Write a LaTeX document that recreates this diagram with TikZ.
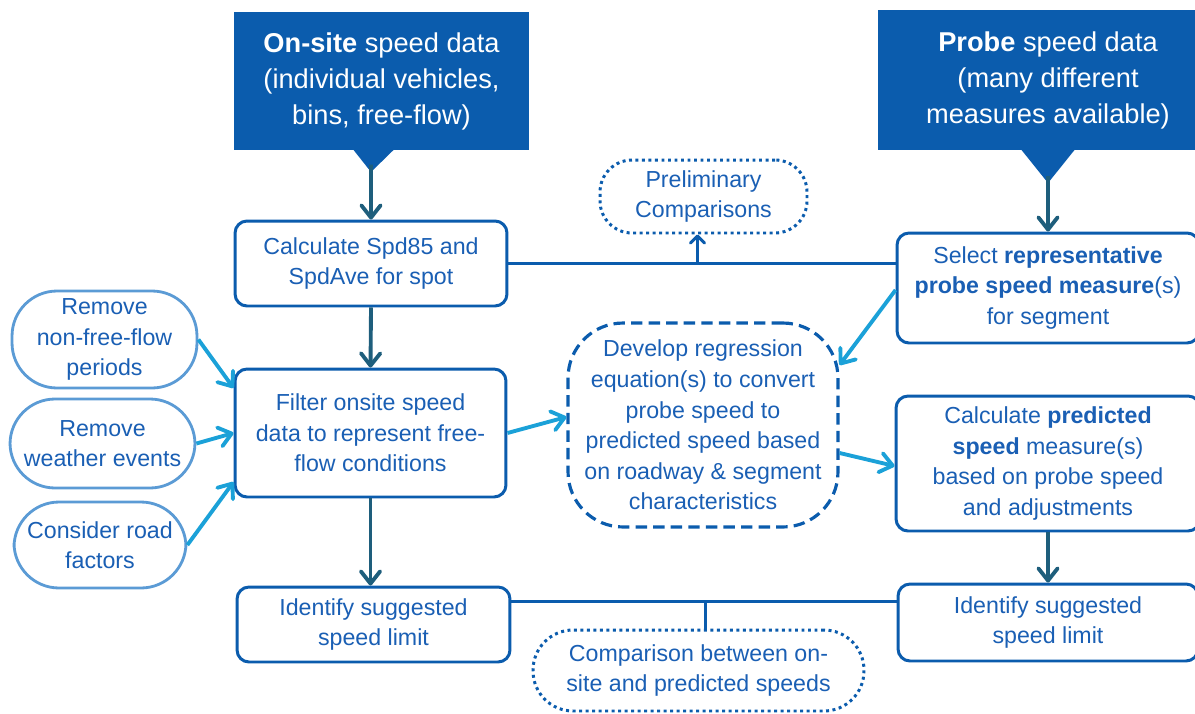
\documentclass[tikz,border=0pt]{standalone}
\usepackage{fontspec}
\setmainfont{Liberation Sans}
\usetikzlibrary{positioning,arrows.meta,shapes.callouts,calc}
\definecolor{flowblue}{HTML}{0B5CAD}
\definecolor{flowtext}{HTML}{1A5FB4}
\definecolor{flowdark}{HTML}{1E5E7C}
\definecolor{flowlight}{HTML}{1BA1D8}
\definecolor{flowoval}{HTML}{5B9BD5}

\begin{document}
\begin{tikzpicture}[x=0.02cm,y=-0.02cm,
  font=\fontsize{13.2}{17.4}\selectfont,
  source/.style={rectangle callout,fill=flowblue,text=white,align=center,inner sep=0pt,
                 font=\fontsize{15.5}{20.5}\selectfont},
  stepbox/.style={draw=flowblue,line width=1.7pt,rounded corners=0.24cm,fill=white,
                  text=flowtext,align=center,inner sep=0pt},
  filterbox/.style={draw=flowoval,line width=1.6pt,rounded corners=0.9cm,fill=white,
                    text=flowtext,align=center,inner sep=0pt},
  modelbox/.style={draw=flowblue,line width=1.8pt,dash pattern=on 6.5pt off 3.5pt,
                   rounded corners=1.1cm,text=flowtext,align=center,inner sep=0pt},
  checkbox/.style={draw=flowblue,line width=1.7pt,dash pattern=on 1.7pt off 2pt,
                   text=flowtext,align=center,inner sep=0pt},
  darr/.style={-{Straight Barb[length=7pt,width=11pt,round]},draw=flowdark,line width=2.2pt},
  larr/.style={-{Straight Barb[length=7pt,width=11pt,round]},draw=flowlight,line width=2.2pt},
  link/.style={draw=flowblue,line width=1.7pt},
]
\useasboundingbox (0,0) rectangle (1195,713);

% data sources (callouts pointing down)
\node[source,minimum width=5.9cm,minimum height=2.76cm,callout pointer width=0.8cm,
      callout absolute pointer={(371,172)}] (onsite) at (381.5,81)
  {\textbf{On-site} speed data\\(individual vehicles,\\bins, free-flow)};
\node[source,minimum width=6.8cm,minimum height=2.8cm,callout pointer width=1.06cm,
      callout absolute pointer={(1048,183)}] (probe) at (1048,80)
  {\textbf{Probe} speed data\\(many different\\measures available)};

% on-site column
\node[stepbox,minimum width=5.44cm,minimum height=1.7cm] (calc) at (371,263.5)
  {Calculate Spd85 and\\SpdAve for spot};
\node[stepbox,minimum width=5.42cm,minimum height=2.56cm] (filter) at (370.5,433)
  {Filter onsite speed\\data to represent free-\\flow conditions};
\node[stepbox,minimum width=5.46cm,minimum height=1.5cm] (idl) at (373.5,624.5)
  {Identify suggested\\speed limit};

% filters feeding the on-site data
\node[filterbox,minimum width=3.7cm,minimum height=1.94cm] (rmflow) at (104.5,339.5)
  {Remove\\non-free-flow\\periods};
\node[filterbox,minimum width=3.7cm,minimum height=1.78cm] (rmwx) at (102.5,443.5)
  {Remove\\weather events};
\node[filterbox,minimum width=3.44cm,minimum height=1.72cm] (road) at (100,545)
  {Consider road\\factors};

% probe column
\node[stepbox,minimum width=6.04cm,minimum height=2.2cm] (sel) at (1048,288)
  {Select \textbf{representative}\\\textbf{probe speed measure}(s)\\for segment};
\node[stepbox,minimum width=6.08cm,minimum height=2.7cm] (pred) at (1048,463.5)
  {Calculate \textbf{predicted}\\\textbf{speed} measure(s)\\based on probe speed\\and adjustments};
\node[stepbox,minimum width=6.0cm,minimum height=1.54cm] (idr) at (1048,622.5)
  {Identify suggested\\speed limit};

% middle: regression model and comparisons
\node[modelbox,minimum width=5.4cm,minimum height=4.08cm] (dev) at (703,425)
  {Develop regression\\equation(s) to convert\\probe speed to\\predicted speed based\\on roadway \& segment\\characteristics};
\node[checkbox,rounded corners=0.64cm,minimum width=4.14cm,minimum height=1.46cm] (prelim) at (703.5,196.5)
  {Preliminary\\Comparisons};
\node[checkbox,rounded corners=0.8cm,minimum width=6.62cm,minimum height=1.62cm] (comp) at (698.5,670.5)
  {Comparison between on-\\site and predicted speeds};

% main flow
\draw[darr] ([yshift=0.16cm]onsite.pointer) -- (calc.north);
\draw[darr] ([yshift=0.16cm]probe.pointer) -- (sel.north);
\draw[darr] (calc.south) -- (filter.north);
\draw[darr] (filter.south) -- (filter.south |- idl.north);
\draw[darr] (pred.south) -- (pred.south |- idr.north);

% side inputs
\draw[larr] (rmflow.east) -- ([yshift=0.9cm]filter.west);
\draw[larr] (rmwx.east) -- (filter.west);
\draw[larr] (road.east) -- ([yshift=-0.98cm]filter.west);
\draw[larr] (filter.east) -- ([yshift=0.16cm]dev.west);
\draw[larr] ([yshift=-0.04cm]sel.west) -- ([yshift=1.2cm]dev.east);
\draw[larr] ([yshift=-0.56cm]dev.east) -- ([yshift=-0.05cm]pred.west);

% comparison links
\coordinate (topl) at (calc.east);
\draw[link] (topl) -- (topl -| sel.west);
\draw[link,-{Straight Barb[length=4pt,width=8pt,round]}] ([xshift=-0.12cm]topl -| prelim.south) -- ([xshift=-0.12cm]prelim.south);
\coordinate (botl) at ([yshift=0.47cm]idl.east);
\draw[link] (botl) -- (botl -| idr.west);
\draw[link] ([xshift=0.13cm]botl -| comp.north) -- ([xshift=0.13cm]comp.north);
\end{tikzpicture}
\end{document}
